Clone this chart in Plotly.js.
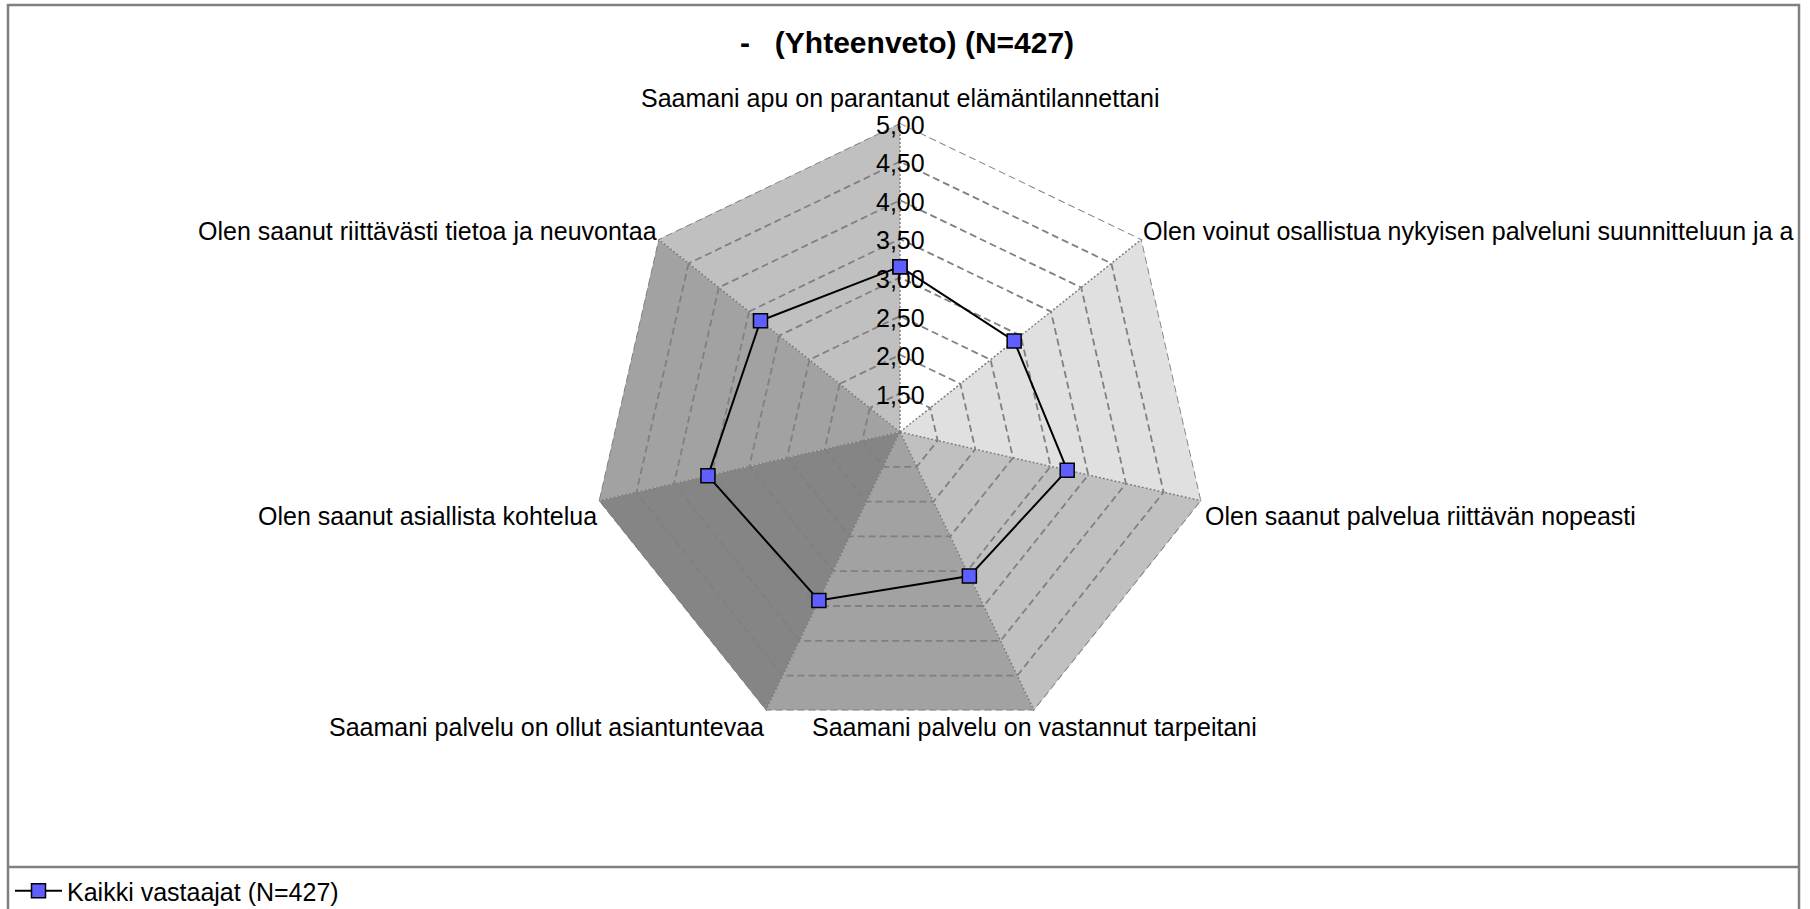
<!DOCTYPE html>
<html><head><meta charset="utf-8">
<script src="https://cdn.plot.ly/plotly-3.0.1.min.js"></script>
<style>html,body{margin:0;padding:0;background:#fff}#chart{width:1810px;height:909px}</style>
</head><body><div id="chart"></div>
<script>
const categories = [
  'Saamani apu on parantanut elämäntilannettani',
  'Olen voinut osallistua nykyisen palveluni suunnitteluun ja a',
  'Olen saanut palvelua riittävän nopeasti',
  'Saamani palvelu on vastannut tarpeitani',
  'Saamani palvelu on ollut asiantuntevaa',
  'Olen saanut asiallista kohtelua',
  'Olen saanut riittävästi tietoa ja neuvontaa'
];
const values = [3.14, 2.89, 3.22, 3.07, 3.42, 3.55, 3.31];
const seriesName = 'Kaikki vastaajat (N=427)';
const chartTitle = '-\u00a0\u00a0 (Yhteenveto) (N=427)';
const radialTickValues = [1.5, 2.0, 2.5, 3.0, 3.5, 4.0, 4.5, 5.0];
const radialTickLabels = ['1,50', '2,00', '2,50', '3,00', '3,50', '4,00', '4,50', '5,00'];
const radialRange = [1, 5];

const sectorColors = ['#ffffff', '#e0e0e0', '#c0c0c0', '#a2a2a2', '#858585', '#a2a2a2', '#c0c0c0'];
const FONT = 'Liberation Sans, Arial, Helvetica, sans-serif';
const GRID = '#808080';

const W = 1810, H = 909;
const cx = 900, cy = 432, R = 309;
const dom = {
  x: [(cx - R) / W, (cx + R) / W],
  y: [(H - cy - R) / H, (H - cy + R) / H]
};
const labelShiftX = -37, labelShiftY = 2;
const domLabels = {
  x: [(cx - R + labelShiftX) / W, (cx + R + labelShiftX) / W],
  y: [(H - cy - R + labelShiftY) / H, (H - cy + R + labelShiftY) / H]
};

const traces = [];
categories.forEach((c, i) => {
  const next = categories[(i + 1) % categories.length];
  traces.push({
    type: 'scatterpolar', subplot: 'polar', mode: 'lines',
    r: [radialRange[1], radialRange[1], radialRange[0], radialRange[1]],
    theta: [c, next, c, c],
    fill: 'toself', fillcolor: sectorColors[i],
    line: { width: 0, color: sectorColors[i] },
    hoverinfo: 'skip', showlegend: false
  });
});
// outer ring of the grid (dashed like the inner rings)
traces.push({
  type: 'scatterpolar', subplot: 'polar2', mode: 'lines',
  r: categories.map(() => radialRange[1]).concat([radialRange[1]]),
  theta: categories.concat([categories[0]]),
  line: { color: GRID, width: 1.8, dash: '7px,4px' },
  hoverinfo: 'skip', showlegend: false
});
// placeholder trace so the tick-label subplot exists
traces.push({
  type: 'scatterpolar', subplot: 'polar3', mode: 'none',
  r: [radialRange[0]], theta: [categories[0]], hoverinfo: 'skip', showlegend: false
});
traces.push({
  type: 'scatterpolar', subplot: 'polar4', mode: 'lines+markers',
  name: seriesName,
  r: values.concat([values[0]]),
  theta: categories.concat([categories[0]]),
  line: { color: '#000000', width: 2 },
  marker: { symbol: 'square', size: 14, color: '#5f5fff', line: { color: '#000000', width: 1.5 } },
  showlegend: true
});

const commonAngular = {
  type: 'category', categoryarray: categories, direction: 'clockwise', rotation: 90
};
const hiddenRadial = { range: radialRange, angle: 90, visible: false, showgrid: false };
const hiddenAngular = Object.assign({}, commonAngular, { visible: false, showgrid: false });

// category labels placed around the polygon vertices
const n = categories.length;
const labelRules = [
  { xa: 'center', dx: 0,  dy: -25 },
  { xa: 'left',   dx: 0,  dy: -8 },
  { xa: 'left',   dx: 3,  dy: 15 },
  { xa: 'center', dx: 0,  dy: 17 },
  { xa: 'right',  dx: -1, dy: 17 },
  { xa: 'right',  dx: -1, dy: 15 },
  { xa: 'right',  dx: 0,  dy: -8 }
];
const annotations = categories.map((c, i) => {
  const a = i * 2 * Math.PI / n;
  const vx = cx + R * Math.sin(a), vy = cy - R * Math.cos(a);
  const rule = labelRules[i];
  return {
    text: c, showarrow: false, xref: 'paper', yref: 'paper',
    x: (vx + rule.dx) / W, y: (H - (vy + rule.dy)) / H,
    xanchor: rule.xa, yanchor: 'middle', borderpad: 0,
    font: { family: FONT, size: 25, color: '#000000' }
  };
});

const layout = {
  width: W, height: H,
  margin: { l: 0, r: 0, t: 0, b: 0, pad: 0, autoexpand: false },
  paper_bgcolor: '#ffffff',
  font: { family: FONT, size: 25, color: '#000000' },
  title: {
    text: chartTitle, x: 907 / W, xanchor: 'center', xref: 'paper',
    y: 1 - 42 / H, yanchor: 'middle', yref: 'container',
    font: { family: FONT, size: 30, weight: 'bold', color: '#000000' }
  },
  showlegend: true,
  legend: {
    x: 10 / W, xanchor: 'left', y: 18 / H, yanchor: 'middle', itemwidth: 47,
    bgcolor: 'rgba(0,0,0,0)', font: { family: FONT, size: 25, color: '#000000' }
  },
  polar: {
    domain: dom, bgcolor: '#ffffff', gridshape: 'linear',
    radialaxis: hiddenRadial, angularaxis: hiddenAngular
  },
  polar2: {
    domain: dom, bgcolor: 'rgba(0,0,0,0)', gridshape: 'linear',
    radialaxis: {
      range: radialRange, angle: 90, tickvals: radialTickValues, ticktext: radialTickLabels,
      showticklabels: false, ticks: '', showline: false,
      showgrid: true, gridcolor: GRID, gridwidth: 1.8, griddash: '7px,4px'
    },
    angularaxis: Object.assign({}, commonAngular, {
      showgrid: true, gridcolor: GRID, gridwidth: 1.5, griddash: '2px,2px',
      showline: false, ticks: '', showticklabels: false
    })
  },
  polar3: {
    domain: domLabels, bgcolor: 'rgba(0,0,0,0)', gridshape: 'linear',
    radialaxis: {
      range: radialRange, angle: 90, tickvals: radialTickValues, ticktext: radialTickLabels,
      showticklabels: true, ticks: '', showline: false, showgrid: false,
      tickfont: { family: FONT, size: 25, color: '#000000' }
    },
    angularaxis: hiddenAngular
  },
  polar4: {
    domain: dom, bgcolor: 'rgba(0,0,0,0)', gridshape: 'linear',
    radialaxis: hiddenRadial, angularaxis: hiddenAngular
  },
  annotations: annotations,
  shapes: [
    { type: 'rect', xref: 'paper', yref: 'paper', x0: 8 / W, x1: 1799 / W, y0: -0.02, y1: (H - 5) / H,
      fillcolor: 'rgba(0,0,0,0)', line: { color: '#808080', width: 2.5 }, layer: 'above' },
    { type: 'line', xref: 'paper', yref: 'paper', x0: 8 / W, x1: 1799 / W, y0: (H - 867) / H, y1: (H - 867) / H,
      line: { color: '#808080', width: 2.5 }, layer: 'above' }
  ]
};

Plotly.newPlot('chart', traces, layout, { displayModeBar: false, staticPlot: true });
</script></body></html>
